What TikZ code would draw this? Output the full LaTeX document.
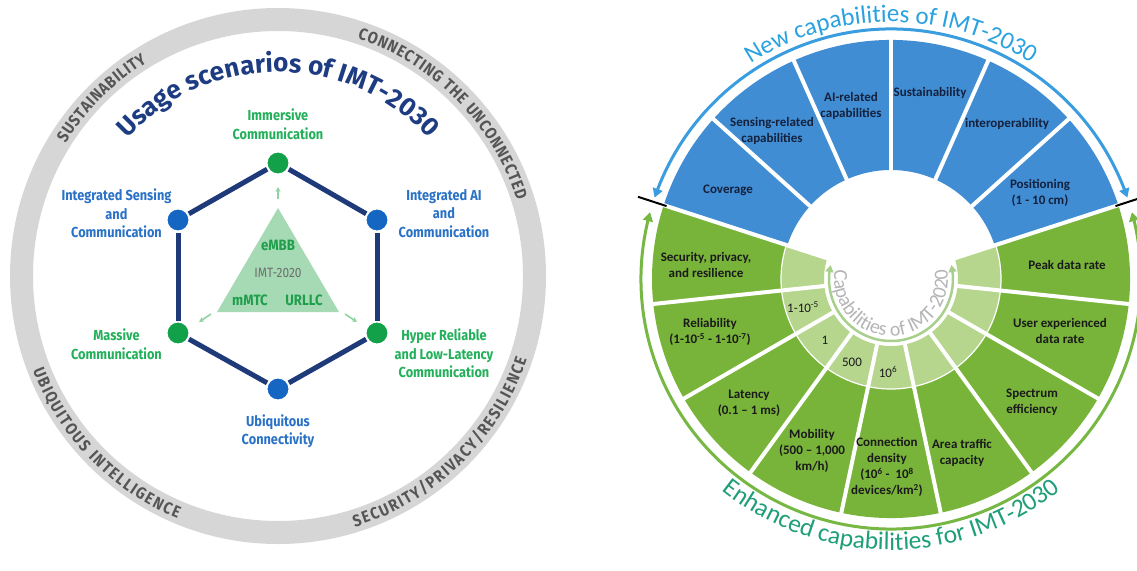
\documentclass[tikz,border=0pt]{standalone}
\usepackage{fontspec}
\setmainfont{Fira Sans}
\newfontfamily\fira{Fira Sans}[FakeStretch=0.88]
\newfontfamily\firawide{Fira Sans}
\newfontfamily\cali{Carlito}[Ligatures=TeX]
\usetikzlibrary{decorations.text,arrows.meta,bending}
\definecolor{ringgray}{HTML}{D6D6D6}
\definecolor{ringtext}{HTML}{555555}
\definecolor{navy}{HTML}{1E3C82}
\definecolor{hexedge}{HTML}{1F3A78}
\definecolor{nodegreen}{HTML}{12A048}
\definecolor{nodeblue}{HTML}{1466C2}
\definecolor{labblue}{HTML}{2A72C6}
\definecolor{labgreen}{HTML}{22B05A}
\definecolor{trigreen}{HTML}{A6DAB4}
\definecolor{tritext}{HTML}{1F9E4C}
\definecolor{trigray}{HTML}{6E6E6E}
\definecolor{secblue}{HTML}{408DD3}
\definecolor{secgreen}{HTML}{79B43A}
\definecolor{seclight}{HTML}{B6D68E}
\definecolor{arrblue}{HTML}{3A9DE0}
\definecolor{arrgreen}{HTML}{76B843}
\definecolor{newblue}{HTML}{2AA2E0}
\definecolor{enhgreen}{HTML}{1E9F78}
\definecolor{innergray}{HTML}{B5B5B5}
\definecolor{innerarrow}{HTML}{A8CF8C}
\definecolor{smallarrow}{HTML}{8FD3A0}
\definecolor{bluetext}{HTML}{14213D}
\definecolor{greentext}{HTML}{1A1A1A}
\begin{document}
\begin{tikzpicture}[x=1pt,y=1pt,
  hexnode/.style={circle, draw=white, line width=2pt, minimum size=23pt, inner sep=0pt},
  hexline/.style={draw=hexedge, line width=5pt},
  hexlab/.style={align=center, inner sep=0pt, font=\fira\bfseries\fontsize{14.5}{18.5}\selectfont},
  trilab/.style={inner sep=0pt, font=\fira\bfseries\fontsize{15}{15}\selectfont, text=tritext},
  smallarr/.style={draw=smallarrow, line width=1.6pt, -{Stealth[length=5pt,width=5pt]}},
  caplab/.style={align=center, inner sep=0pt, font=\cali\bfseries\fontsize{13}{16}\selectfont},
  valab/.style={inner sep=0pt, font=\cali\fontsize{13}{15}\selectfont, text=greentext},
  sepline/.style={draw=white, line width=4pt},
  tickline/.style={draw=black, line width=2pt},
  ]
\useasboundingbox (0,0) rectangle (1137,-570);
\fill[white] (0,0) rectangle (1137,-570);

% ================= LEFT DIAGRAM =================
\coordinate (L) at (278,-276);
\fill[ringgray, even odd rule] (L) circle[radius=268] (L) circle[radius=245];

\path[decorate, decoration={text along path, text align=fit to path,
  text={|\fira\bfseries\fontsize{16.5}{16.5}\selectfont\color{ringtext}|SUSTAINABILITY}}]
  ([shift={(148:250.5)}]L) arc[start angle=148, end angle=121.5, radius=250.5];
\path[decorate, decoration={text along path, text align=fit to path,
  text={|\fira\bfseries\fontsize{16.5}{16.5}\selectfont\color{ringtext}|CONNECTING THE UNCONNECTED}}]
  ([shift={(71.5:250.5)}]L) arc[start angle=71.5, end angle=17.5, radius=250.5];
\path[decorate, decoration={text along path, text align=fit to path,
  text={|\fira\bfseries\fontsize{16.5}{16.5}\selectfont\color{ringtext}|UBIQUITOUS INTELLIGENCE}}]
  ([shift={(201:262.5)}]L) arc[start angle=201, end angle=247.5, radius=262.5];
\path[decorate, decoration={text along path, text align=fit to path,
  text={|\fira\bfseries\fontsize{16.5}{16.5}\selectfont\color{ringtext}|SECURITY/PRIVACY/RESILIENCE}}]
  ([shift={(287:262.5)}]L) arc[start angle=287, end angle=341.5, radius=262.5];

\path[decorate, decoration={text along path, text align=center,
  text={|\firawide\bfseries\fontsize{26}{26}\selectfont\color{navy}|Usage scenarios of IMT-2030}}]
  ([shift={(170:204)}]L) arc[start angle=170, end angle=10, radius=204];

% triangle
\coordinate (ta) at (278,-208);
\coordinate (tb) at (217,-312);
\coordinate (tc) at (339,-312);
\fill[trigreen] (ta) -- (tb) -- (tc) -- cycle;
\node[trilab] (embb) at (278,-245) {eMBB};
\node[inner sep=0pt, font=\fira\fontsize{13.5}{13.5}\selectfont, text=trigray] (imt20) at (278,-273) {IMT-2020};
\node[trilab] (mmtc) at (250,-300) {mMTC};
\node[trilab] (urllc) at (304,-300) {URLLC};

% hexagon nodes
\node[hexnode, fill=nodegreen] (n1) at (278,-163) {};
\node[hexnode, fill=nodeblue]  (n2) at (377,-220) {};
\node[hexnode, fill=nodegreen] (n3) at (377,-333) {};
\node[hexnode, fill=nodeblue]  (n4) at (278,-389) {};
\node[hexnode, fill=nodegreen] (n5) at (178,-333) {};
\node[hexnode, fill=nodeblue]  (n6) at (178,-220) {};
\path[hexline] (n1) edge (n2) (n2) edge (n3) (n3) edge (n4) (n4) edge (n5) (n5) edge (n6) (n6) edge (n1);

% small arrows
\coordinate (a1s) at (278,-199); \coordinate (a1e) at (278,-187);
\coordinate (a2s) at (211,-314); \coordinate (a2e) at (199,-322);
\coordinate (a3s) at (345,-314); \coordinate (a3e) at (357,-322);
\draw[smallarr] (a1s) -- (a1e);
\draw[smallarr] (a2s) -- (a2e);
\draw[smallarr] (a3s) -- (a3e);

% hexagon labels
\node[hexlab, text=labgreen] (t1) at (278,-124) {Immersive\\Communication};
\node[hexlab, text=labblue]  (t6) at (116.5,-213.5) {Integrated Sensing\\and\\Communication};
\node[hexlab, text=labblue]  (t2) at (444,-213.5) {Integrated AI\\and\\Communication};
\node[hexlab, text=labgreen] (t5) at (116.5,-344) {Massive\\Communication};
\node[hexlab, text=labgreen] (t3) at (444,-353.5) {Hyper Reliable\\and Low-Latency\\Communication};
\node[hexlab, text=labblue]  (t4) at (278,-431) {Ubiquitous\\Connectivity};

% ================= RIGHT DIAGRAM =================
\coordinate (R) at (891,-279);
\fill[secblue] ([shift={(18:109)}]R) arc[start angle=18, end angle=162, radius=109]
  -- ([shift={(162:239)}]R) arc[start angle=162, end angle=18, radius=239] -- cycle;
\fill[secgreen] ([shift={(162:110)}]R) arc[start angle=162, end angle=378, radius=110]
  -- ([shift={(378:239)}]R) arc[start angle=378, end angle=162, radius=239] -- cycle;
\fill[seclight] ([shift={(162:67)}]R) arc[start angle=162, end angle=378, radius=67]
  -- ([shift={(378:110)}]R) arc[start angle=378, end angle=162, radius=110] -- cycle;
\draw[white, line width=1.2pt] ([shift={(162:110)}]R) arc[start angle=162, end angle=378, radius=110];
\foreach \a in {42,66,90,114,138}
  \draw[sepline] ([shift={(\a:106)}]R) -- ([shift={(\a:241)}]R);
\foreach \a in {18,162,186,210,234,258,282,306,330,354}
  \draw[sepline] ([shift={(\a:64)}]R) -- ([shift={(\a:241)}]R);

% outer arrows
\draw[draw=arrblue, line width=3pt, {Triangle[length=9pt,width=10pt]}-{Triangle[length=9pt,width=10pt]}]
  ([shift={(161:250)}]R) arc[start angle=161, end angle=19, radius=250];
\draw[draw=arrgreen, line width=3pt, {Triangle[length=9pt,width=10pt]}-{Triangle[length=9pt,width=10pt]}]
  ([shift={(164.5:250)}]R) arc[start angle=164.5, end angle=375.5, radius=250];
\coordinate (k1a) at ([shift={(162:236)}]R); \coordinate (k1b) at ([shift={(162:266)}]R);
\coordinate (k2a) at ([shift={(18:236)}]R);  \coordinate (k2b) at ([shift={(18:266)}]R);
\draw[tickline] (k1a) -- (k1b);
\draw[tickline] (k2a) -- (k2b);

% inner arrow and text
\draw[draw=innerarrow, line width=2.5pt, {Triangle[length=7pt,width=8pt]}-{Triangle[length=7pt,width=8pt]}]
  ([shift={(167:62)}]R) arc[start angle=167, end angle=373, radius=62];
\path[decorate, decoration={text along path, text align=center,
  text={|\cali\fontsize{20}{20}\selectfont\color{innergray}|Capabilities of IMT-2020}}]
  ([shift={(150:57)}]R) arc[start angle=150, end angle=390, radius=57];

% titles
\path[decorate, decoration={text along path, text align=center,
  text={|\cali\fontsize{25}{25}\selectfont\color{newblue}|New capabilities of IMT-2030}}]
  ([shift={(170:257)}]R) arc[start angle=170, end angle=10, radius=257];
\path[decorate, decoration={text along path, text align=center,
  text={|\cali\fontsize{25.5}{25.5}\selectfont\color{enhgreen}|Enhanced capabilities for IMT-2030}}]
  ([shift={(185:271)}]R) arc[start angle=185, end angle=355, radius=271];

% blue labels
\node[caplab, text=bluetext] (c1) at (728,-190) {Coverage};
\node[caplab, text=bluetext] (c2) at (772,-131) {Sensing-related\\capabilities};
\node[caplab, text=bluetext] (c3) at (851,-106) {AI-related\\capabilities};
\node[caplab, text=bluetext] (c4) at (930,-93) {Sustainability};
\node[caplab, text=bluetext] (c5) at (1007,-124) {interoperability};
\node[caplab, text=bluetext] (c6) at (1040,-193) {Positioning\\(1 - 10 cm)};
% green labels
\node[caplab, text=greentext] (g1) at (706,-265) {Security, privacy,\\and resilience};
\node[caplab, text=greentext] (g2) at (710,-332) {Reliability\\(1-10\textsuperscript{-5} - 1-10\textsuperscript{-7})};
\node[caplab, text=greentext] (g3) at (749,-403) {Latency\\(0.1 – 1 ms)};
\node[caplab, text=greentext] (g4) at (812,-451) {Mobility\\(500 – 1,000\\km/h)};
\node[caplab, text=greentext] (g5) at (887,-467) {Connection\\density\\(10\textsuperscript{6} -\ \ 10\textsuperscript{8}\\devices/km\textsuperscript{2})};
\node[caplab, text=greentext] (g6) at (962,-453) {Area traffic\\capacity};
\node[caplab, text=greentext] (g7) at (1032,-402) {Spectrum\\efficiency};
\node[caplab, text=greentext] (g8) at (1060,-331) {User experienced\\data rate};
\node[caplab, text=greentext] (g9) at (1067,-265) {Peak data rate};
% values
\node[valab] (v1) at (803,-307) {1-10\textsuperscript{-5}};
\node[valab] (v2) at (825,-340) {1};
\node[valab] (v3) at (852,-362) {500};
\node[valab] (v4) at (888,-372) {10\textsuperscript{6}};
\end{tikzpicture}
\end{document}
